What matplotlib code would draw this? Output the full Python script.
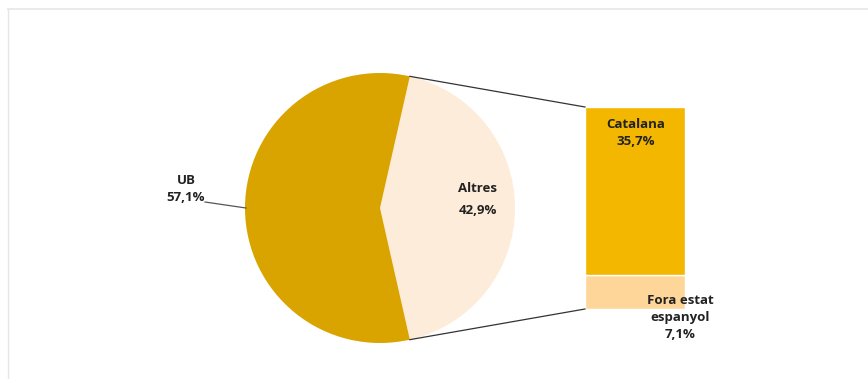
import numpy as np
import matplotlib.pyplot as plt
from matplotlib.lines import Line2D

# pie: main split
pie_labels = ["Altres", "UB"]
pie_values = [42.9, 57.1]
pie_colors = ["#FEECDA", "#D9A400"]

# bar: breakdown of "Altres"
bar_labels = ["Fora estat\nespanyol", "Catalana"]
bar_values = [7.1, 35.7]
bar_colors = ["#FFD699", "#F3B700"]

W, H = 868, 379
CENTER = (380, H - 208)
RADIUS = 135
BAR_X, BAR_W = 635, 100
BAR_BOTTOM, BAR_TOP = H - 309, H - 107

plt.rcParams["font.family"] = ["Open Sans", "DejaVu Sans"]

fig = plt.figure(figsize=(W / 100, H / 100), dpi=100)
ax = fig.add_axes([0, 0, 1, 1])
ax.set_xlim(0, W)
ax.set_ylim(0, H)
ax.axis("off")

fmt = lambda v: f"{v:.1f}%".replace(".", ",")

# pie, "Altres" wedge centred on the right
span = 360 * pie_values[0] / sum(pie_values)
start = -span / 2
wedges, _ = ax.pie(pie_values, colors=pie_colors, startangle=start,
                   counterclock=True, center=CENTER, radius=RADIUS,
                   frame=True, wedgeprops=dict(linewidth=0))
ax.set_xlim(0, W)
ax.set_ylim(0, H)
ax.set_aspect("equal")
ax.axis("off")

# stacked bar
scale = (BAR_TOP - BAR_BOTTOM) / sum(bar_values)
bottom = BAR_BOTTOM
for v, c in zip(bar_values, bar_colors):
    ax.bar(BAR_X, v * scale, width=BAR_W, bottom=bottom, color=c,
           edgecolor="white", linewidth=1)
    bottom += v * scale

# connector lines
t1, t2 = np.radians(start + span), np.radians(start)
p_top = (CENTER[0] + RADIUS * np.cos(t1), CENTER[1] + RADIUS * np.sin(t1))
p_bot = (CENTER[0] + RADIUS * np.cos(t2), CENTER[1] + RADIUS * np.sin(t2))
ax.plot([p_top[0], BAR_X - BAR_W / 2], [p_top[1], BAR_TOP], color="#333333", lw=0.9)
ax.plot([p_bot[0], BAR_X - BAR_W / 2], [p_bot[1], BAR_BOTTOM], color="#333333", lw=0.9)

tkw = dict(fontsize=9.5, fontweight="bold", color="#222222", ha="center", va="center")

# pie labels
ax.text(478, H - 188, pie_labels[0], **tkw)
ax.text(478, H - 211, fmt(pie_values[0]), **tkw)
ax.text(186, H - 189, f"{pie_labels[1]}\n{fmt(pie_values[1])}", linespacing=1.4, **tkw)
ax.plot([205, CENTER[0] - RADIUS + 1], [H - 202, H - 208], color="#555555", lw=0.9)

# bar labels
ax.text(636, H - 133, f"{bar_labels[1]}\n{fmt(bar_values[1])}", linespacing=1.4, **tkw)
ax.text(680, H - 317, f"{bar_labels[0]}\n{fmt(bar_values[0])}", linespacing=1.4, **tkw)

# chart area border
fig.add_artist(Line2D([8 / W, 1], [1 - 9 / H, 1 - 9 / H], transform=fig.transFigure,
                      color="#E6E6E6", lw=1.2))
fig.add_artist(Line2D([8 / W, 8 / W], [0, 1 - 9 / H], transform=fig.transFigure,
                      color="#E6E6E6", lw=1.0))

fig.savefig("out.png", dpi=100)
